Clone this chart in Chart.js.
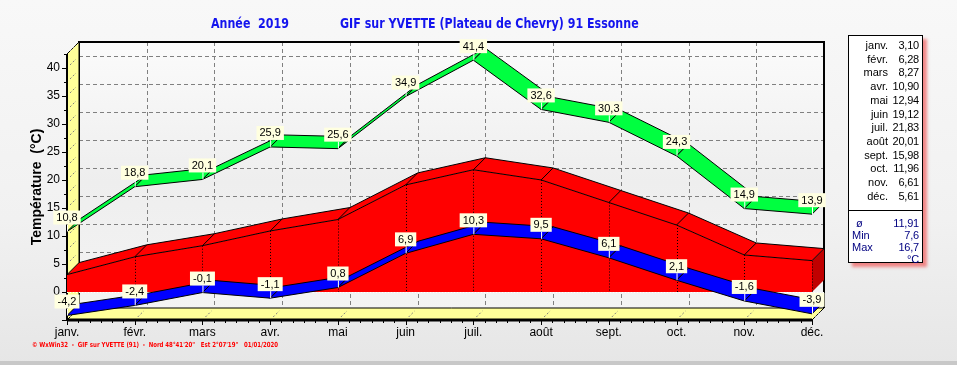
<!DOCTYPE html>
<html>
<head>
<meta charset="utf-8">
<script src="https://cdn.jsdelivr.net/npm/chart.js@4.4.1/dist/chart.umd.min.js"></script>
<style>
  body { margin: 0; width: 957px; height: 365px; overflow: hidden;
         background: linear-gradient(#f8f8f8 0%, #f1f1f1 60%, #e6e6e6 100%);
         font-family: "Liberation Sans", Arial, sans-serif; }
  #wrap { position: relative; width: 957px; height: 365px; }
  #wrap canvas { position: absolute; left: 0; top: 0; }
  .titre { position: absolute; top: 15px; color: #1414ee; white-space: pre; transform: scaleX(0.88); transform-origin: left;
           font: bold 14px "Liberation Sans Narrow", "DejaVu Sans Condensed", sans-serif; }
  #legende { position: absolute; left: 848px; top: 35px; width: 73px; height: 226px;
             background: #fff; border: 1px solid #000; box-shadow: 4px 4px 3px rgba(240,90,90,0.7);
             font-size: 11px; color: #000; }
  #legende .row { position: absolute; left: 0; width: 73px; height: 13px; line-height: 13px; }
  #legende .m { position: absolute; right: 34px; }
  #legende .v { position: absolute; right: 3px; letter-spacing: -0.2px; }
  #legende .sep { position: absolute; left: 0; top: 174px; width: 73px; border-top: 1px solid #000; }
  #legende .bas { color: #000080; }
  #legende .bas .m { left: 3px; right: auto; }
  #pied { position: absolute; left: 32px; top: 341px; color: #f00; white-space: pre; transform: scaleX(0.86); transform-origin: left;
          font: bold 7px "Liberation Sans Narrow", "DejaVu Sans Condensed", sans-serif; }
  #bordure { position: absolute; left: 0; top: 361px; width: 957px; height: 4px; background: #c8c8c8; }
</style>
</head>
<body>
<div id="wrap">
  <canvas id="myChart" width="957" height="365"></canvas>
  <div class="titre" style="left:211px">Année  2019</div>
  <div class="titre" style="left:340px">GIF sur YVETTE (Plateau de Chevry) 91 Essonne</div>
  <div id="legende"></div>
  <div id="pied">© WxWin32  -  GIF sur YVETTE (91)  -  Nord 48°41'20"   Est 2°07'19"   01/01/2020</div>
  <div id="bordure"></div>
</div>
<script>
// valeurs 2019
const mois = ['janv.', 'févr.', 'mars', 'avr.', 'mai', 'juin', 'juil.', 'août', 'sept.', 'oct.', 'nov.', 'déc.'];
const tMax = [10.8, 18.8, 20.1, 25.9, 25.6, 34.9, 41.4, 32.6, 30.3, 24.3, 14.9, 13.9];
const tMin = [-4.2, -2.4, -0.1, -1.1, 0.8, 6.9, 10.3, 9.5, 6.1, 2.1, -1.6, -3.9];
const tMoy = [3.10, 6.28, 8.27, 10.90, 12.94, 19.12, 21.83, 20.01, 15.98, 11.96, 6.61, 5.61];
const resume = [['ø', '11,91'], ['Min', '7,6'], ['Max', '16,7'], ['', '°C']];

// legende a droite
const leg = document.getElementById('legende');
mois.forEach(function (m, i) {
    leg.innerHTML += '<div class="row" style="top:' + (3 + i * 13.7) + 'px"><span class="m">' + m +
        '</span><span class="v">' + tMoy[i].toFixed(2).replace('.', ',') + '</span></div>';
});
leg.innerHTML += '<div class="sep"></div>';
resume.forEach(function (r, i) {
    leg.innerHTML += '<div class="row bas" style="top:' + (181 + i * 12) + 'px"><span class="m"' +
        (i === 0 ? ' style="left:7px"' : '') + '>' + r[0] + '</span><span class="v">' + r[1] + '</span></div>';
});

const DX = 12, DY = 12;
const virgule = v => v.toFixed(1).replace('.', ',');

function quad(ctx, a, b, c, d, fill) {
    ctx.beginPath();
    ctx.moveTo(a[0], a[1]); ctx.lineTo(b[0], b[1]); ctx.lineTo(c[0], c[1]); ctx.lineTo(d[0], d[1]);
    ctx.closePath();
    ctx.fillStyle = fill; ctx.fill();
    ctx.strokeStyle = '#000'; ctx.lineWidth = 1; ctx.stroke();
}

function ruban(ctx, pts, fill) {
    for (let i = 0; i < pts.length - 1; i++) {
        const p = pts[i], q = pts[i + 1];
        quad(ctx, [p.x, p.y], [q.x, q.y], [q.x + DX, q.y - DY], [p.x + DX, p.y - DY], fill);
    }
}

function etiquettes(ctx, pts, vals) {
    ctx.font = '11px "Liberation Sans", Arial, sans-serif';
    ctx.textAlign = 'center';
    ctx.textBaseline = 'middle';
    pts.forEach(function (p, i) {
        const txt = virgule(vals[i]);
        const w = ctx.measureText(txt).width + 6;
        ctx.strokeStyle = '#fff'; ctx.lineWidth = 1;
        ctx.beginPath(); ctx.moveTo(p.x + 0.5, p.y - 7); ctx.lineTo(p.x + 0.5, p.y); ctx.stroke();
        ctx.fillStyle = '#ffffe0';
        ctx.fillRect(p.x - w / 2, p.y - 21, w, 14);
        ctx.fillStyle = '#000';
        ctx.fillText(txt, p.x, p.y - 13.5);
    });
}

const relief = {
    id: 'relief',
    beforeDraw(chart) {
        const ctx = chart.ctx;
        const { left: L, right: R, top: T, bottom: B } = chart.chartArea;
        const sx = chart.scales.x, sy = chart.scales.y;
        ctx.save();
        // fond
        const g = ctx.createLinearGradient(0, T - DY, 0, B);
        g.addColorStop(0, '#fbfbfb'); g.addColorStop(0.5, '#eeeeee'); g.addColorStop(1, '#f4f4f4');
        ctx.fillStyle = g;
        ctx.fillRect(L + DX, T - DY, R - L, B - T);
        // grille du fond
        ctx.strokeStyle = '#808080'; ctx.lineWidth = 1; ctx.setLineDash([4, 3]);
        for (let v = 0; v <= 40; v += 5) {
            const py = Math.round(sy.getPixelForValue(v) - DY) + 0.5;
            ctx.beginPath(); ctx.moveTo(L + DX, py); ctx.lineTo(R + DX, py); ctx.stroke();
        }
        for (let i = 1; i < mois.length; i++) {
            const px = Math.round(sx.getPixelForValue(i) + DX) + 0.5;
            ctx.beginPath(); ctx.moveTo(px, T - DY); ctx.lineTo(px, B - DY); ctx.stroke();
        }
        ctx.setLineDash([]);
        // cadre
        ctx.strokeStyle = '#000'; ctx.lineWidth = 2;
        ctx.beginPath();
        ctx.moveTo(L + DX, B - DY); ctx.lineTo(L + DX, T - DY); ctx.lineTo(R + DX, T - DY); ctx.lineTo(R + DX, B - DY);
        ctx.stroke();
        // mur gauche
        quad(ctx, [L, T], [L + DX, T - DY], [L + DX, B - DY], [L, B], '#ffff99');
        ctx.strokeStyle = '#808080'; ctx.setLineDash([2, 2]);
        for (let v = -2.5; v <= 42.5; v += 2.5) {
            const py = sy.getPixelForValue(v);
            ctx.beginPath(); ctx.moveTo(L + 3, py - 3); ctx.lineTo(L + DX - 3, py - DY + 3); ctx.stroke();
        }
        ctx.setLineDash([]);
        // sol
        quad(ctx, [L, B], [L + DX, B - DY], [R + DX, B - DY], [R, B], '#ffff99');
        ctx.strokeStyle = '#808080'; ctx.setLineDash([2, 2]);
        for (let i = 0; i < mois.length; i++) {
            const px = sx.getPixelForValue(i);
            ctx.beginPath(); ctx.moveTo(px + 3, B - 3); ctx.lineTo(px + DX - 3, B - DY + 3); ctx.stroke();
        }
        ctx.setLineDash([]);
        ctx.strokeStyle = '#000'; ctx.lineWidth = 3;
        ctx.beginPath(); ctx.moveTo(L, B); ctx.lineTo(R, B); ctx.stroke();
        ctx.lineWidth = 2;
        ctx.beginPath(); ctx.moveTo(L, T); ctx.lineTo(L, B); ctx.stroke();
        // graduations
        ctx.lineWidth = 1;
        for (let v = -5; v <= 42.5; v += 2.5) {
            const py = Math.round(sy.getPixelForValue(v)) + 0.5;
            ctx.beginPath(); ctx.moveTo(L - (v % 5 === 0 ? 5 : 3), py); ctx.lineTo(L, py); ctx.stroke();
        }
        for (let i = 0; i < mois.length; i++) {
            const px = sx.getPixelForValue(i);
            ctx.beginPath(); ctx.moveTo(Math.round(px) + 0.5, B); ctx.lineTo(Math.round(px) + 0.5, B + 5); ctx.stroke();
            if (i < mois.length - 1) {
                const step = (sx.getPixelForValue(i + 1) - px) / 6;
                for (let k = 1; k < 6; k++) {
                    const mx = Math.round(px + k * step) + 0.5;
                    ctx.beginPath(); ctx.moveTo(mx, B); ctx.lineTo(mx, B + 3); ctx.stroke();
                }
            }
        }
        ctx.restore();
    },
    afterDatasetsDraw(chart) {
        const ctx = chart.ctx;
        const sy = chart.scales.y;
        const y0 = sy.getPixelForValue(0);
        const pMoy = chart.getDatasetMeta(2).data;
        const pMin = chart.getDatasetMeta(1).data;
        const pMax = chart.getDatasetMeta(0).data;
        ctx.save();
        // aire des moyennes
        const rouge = '#ff0000';
        ctx.beginPath();
        pMoy.forEach((p, i) => i ? ctx.lineTo(p.x, p.y) : ctx.moveTo(p.x, p.y));
        for (let i = pMoy.length - 1; i >= 0; i--) ctx.lineTo(pMoy[i].x + DX, pMoy[i].y - DY);
        ctx.closePath(); ctx.fillStyle = rouge; ctx.fill();
        ctx.beginPath();
        pMoy.forEach((p, i) => i ? ctx.lineTo(p.x, p.y) : ctx.moveTo(p.x, p.y));
        const last = pMoy[pMoy.length - 1];
        ctx.lineTo(last.x, y0); ctx.lineTo(pMoy[0].x, y0);
        ctx.closePath(); ctx.fill();
        ctx.beginPath();
        ctx.moveTo(last.x, last.y); ctx.lineTo(last.x + DX, last.y - DY); ctx.lineTo(last.x + DX, y0 - DY); ctx.lineTo(last.x, y0);
        ctx.closePath(); ctx.fillStyle = '#c00000'; ctx.fill();
        ctx.strokeStyle = '#000'; ctx.lineWidth = 1;
        ctx.beginPath();
        pMoy.forEach((p, i) => i ? ctx.lineTo(p.x, p.y) : ctx.moveTo(p.x, p.y));
        ctx.stroke();
        ctx.beginPath();
        pMoy.forEach((p, i) => i ? ctx.lineTo(p.x + DX, p.y - DY) : ctx.moveTo(p.x + DX, p.y - DY));
        ctx.stroke();
        pMoy.forEach(function (p) {
            ctx.beginPath(); ctx.moveTo(p.x, p.y); ctx.lineTo(p.x + DX, p.y - DY); ctx.stroke();
        });
        ctx.setLineDash([1, 2]);
        pMoy.forEach(function (p, i) {
            if (i === 0) return;
            ctx.beginPath(); ctx.moveTo(Math.round(p.x) + 0.5, p.y); ctx.lineTo(Math.round(p.x) + 0.5, y0); ctx.stroke();
        });
        ctx.strokeStyle = '#fff';
        ctx.beginPath(); ctx.moveTo(pMoy[0].x, y0 + 0.5); ctx.lineTo(last.x + DX, y0 + 0.5); ctx.stroke();
        ctx.setLineDash([]);
        // rubans min et max
        ruban(ctx, pMin, '#0000ff');
        ruban(ctx, pMax, '#00ff40');
        etiquettes(ctx, pMin, tMin);
        etiquettes(ctx, pMax, tMax);
        ctx.restore();
    }
};

const ctx = document.getElementById('myChart');

var chart = new Chart(ctx, {
    type: 'line',
    data: {
        labels: mois,
        datasets: [
            { label: 'Max', data: tMax, borderWidth: 0, pointRadius: 0, fill: false },
            { label: 'Min', data: tMin, borderWidth: 0, pointRadius: 0, fill: false },
            { label: 'Moyenne', data: tMoy, borderWidth: 0, pointRadius: 0, fill: false }
        ]
    },
    options: {
        responsive: false,
        animation: false,
        layout: { padding: { left: 20, right: 145, top: 54, bottom: 20 } },
        plugins: { legend: { display: false }, tooltip: { enabled: false } },
        scales: {
            x: {
                offset: false,
                grid: { display: false, drawTicks: false },
                border: { display: false },
                ticks: { color: '#000', font: { size: 12, family: '"Liberation Sans", Arial' }, padding: 5, maxRotation: 0, autoSkip: false },
                afterFit: s => { s.height = 25; }
            },
            y: {
                min: -5,
                max: 42.5,
                grid: { display: false, drawTicks: false },
                border: { display: false },
                ticks: {
                    stepSize: 5, padding: 7, color: '#000',
                    font: { size: 12, family: '"Liberation Sans", Arial' },
                    callback: v => (v >= 0 && v <= 40 && v % 5 === 0) ? v : ''
                },
                title: {
                    display: true, text: 'Température  (°C)', color: '#000',
                    font: { size: 14, weight: 'bold', family: '"Liberation Sans", Arial' },
                    padding: { top: 9, bottom: 0 }
                },
                afterFit: s => { s.width = 47; }
            }
        }
    },
    plugins: [relief]
});
</script>
</body>
</html>
